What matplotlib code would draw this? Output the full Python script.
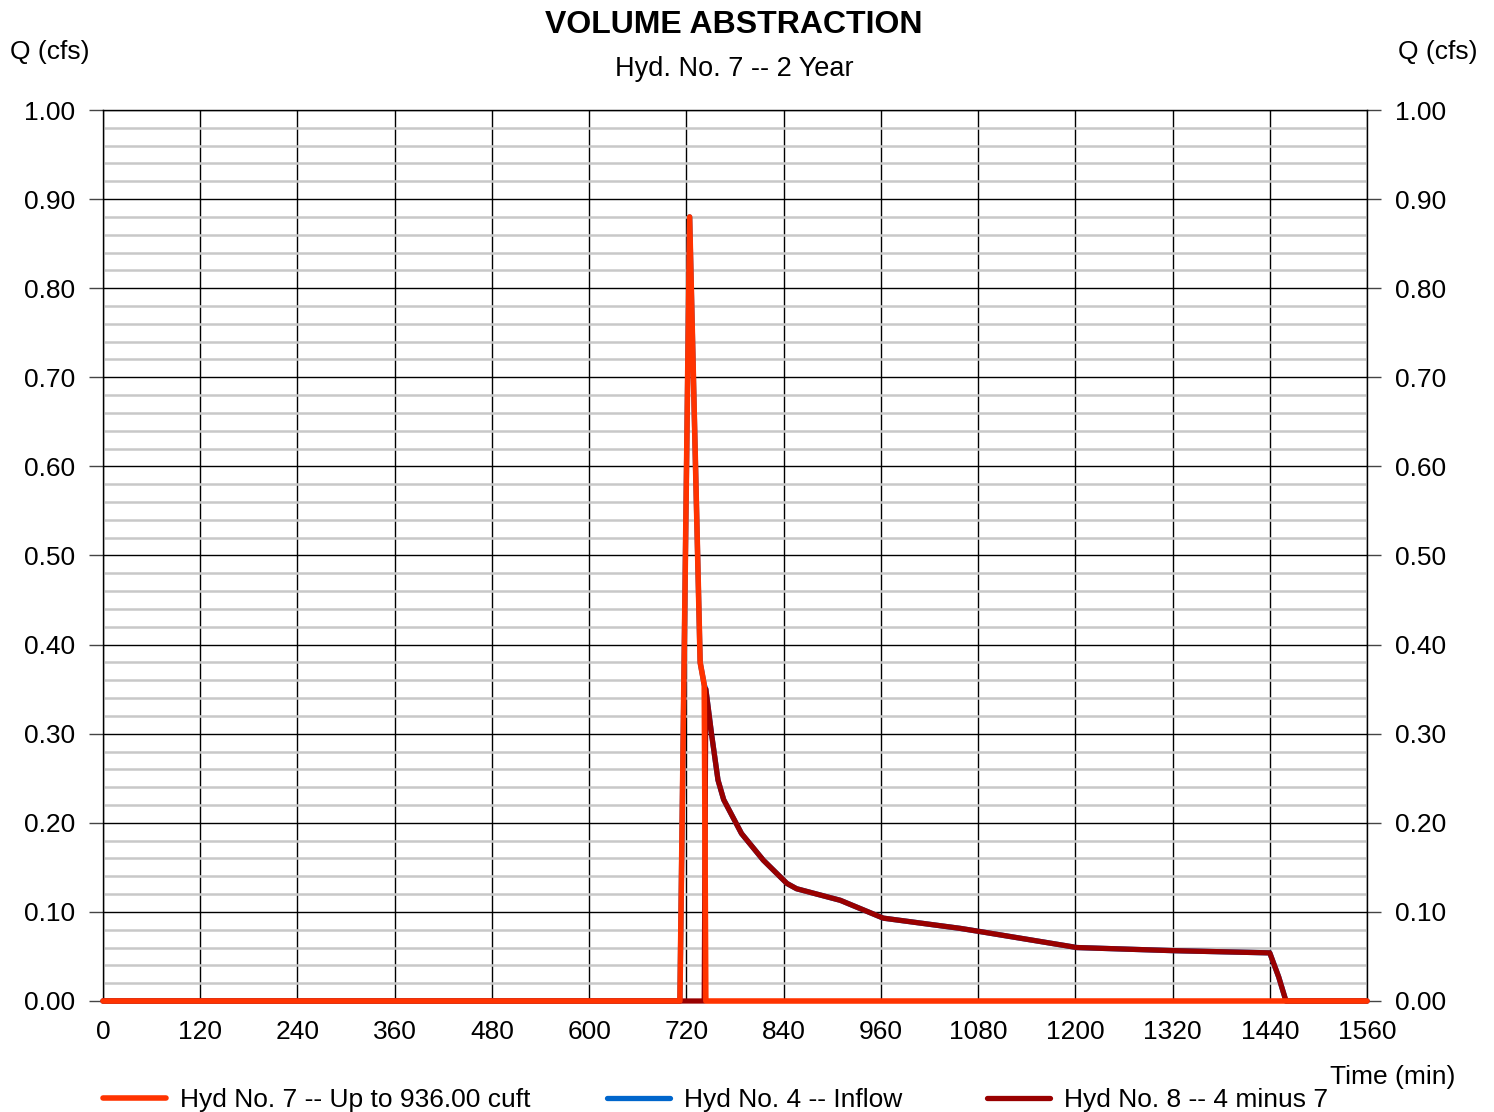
import matplotlib.pyplot as plt
from matplotlib.ticker import MultipleLocator

plt.rcParams['font.family'] = ['Liberation Sans', 'DejaVu Sans']

# Hyd No. 7 - abstracted volume (up to 936 cuft), time in min, Q in cfs
t_up = [0, 712, 724, 737, 742, 744, 1560]
q_up = [0.0, 0.0, 0.88, 0.38, 0.355, 0.0, 0.0]

# Hyd No. 8 - inflow minus abstraction
t_rem = [0, 742, 744, 751, 759, 766, 788, 815, 844, 856, 910, 963,
         1058, 1082, 1202, 1321, 1440, 1451, 1460, 1560]
q_rem = [0.0, 0.0, 0.35, 0.30, 0.248, 0.226, 0.188, 0.158, 0.132, 0.126, 0.113, 0.093,
         0.0815, 0.078, 0.060, 0.0565, 0.054, 0.027, 0.0, 0.0]

# Hyd No. 4 - inflow (abstraction until full, remainder afterwards)
t_in = t_up[:5] + t_rem[2:]
q_in = q_up[:5] + q_rem[2:]

x_ticks = list(range(0, 1561, 120))

labels = ["Hyd No. 7 -- Up to 936.00 cuft", "Hyd No. 4 -- Inflow", "Hyd No. 8 -- 4 minus 7"]
colors = ["#FF3300", "#0066CC", "#990000"]

fig = plt.figure(figsize=(14.94, 11.12), dpi=100)
ax = fig.add_axes([103 / 1494, 1 - 1001 / 1112, 1264 / 1494, 891 / 1112])

l4, = ax.plot(t_in, q_in, color=colors[1], lw=3.8, zorder=3, clip_on=False,
              solid_capstyle='round')
l8, = ax.plot(t_rem, q_rem, color=colors[2], lw=3.8, zorder=4, clip_on=False,
              solid_capstyle='round')
l7, = ax.plot(t_up, q_up, color=colors[0], lw=4.0, zorder=5, clip_on=False,
              solid_capstyle='round')

ax.set_xlim(0, 1560)
ax.set_ylim(0, 1.0)
ax.set_xticks(x_ticks)
ax.yaxis.set_major_locator(MultipleLocator(0.1))
ax.yaxis.set_minor_locator(MultipleLocator(0.02))
ax.yaxis.set_major_formatter(lambda v, p: f"{v:.2f}")

ax.grid(which='minor', axis='y', color='#C8C8C8', lw=1.8, zorder=0)
ax.grid(which='major', color='black', lw=1.0, zorder=1)
ax.set_axisbelow(True)
for s in ax.spines.values():
    s.set_color('black')
    s.set_linewidth(1.0)

ax.tick_params(axis='y', which='major', left=True, right=True, labelleft=True,
               labelright=True, length=10, width=1, color='#444444', pad=10, labelsize=19)
ax.tick_params(axis='y', which='minor', left=False, right=False)
ax.tick_params(axis='x', length=0, pad=14, labelsize=19)

fig.text(734 / 1494, 1 - 25 / 1112, "VOLUME ABSTRACTION", ha='center', va='center',
         fontsize=23, fontweight='bold')
fig.text(734 / 1494, 1 - 69 / 1112, "Hyd. No. 7 -- 2 Year", ha='center', va='center',
         fontsize=19.5)
fig.text(10 / 1494, 1 - 52 / 1112, "Q (cfs)", ha='left', va='center', fontsize=19)
fig.text(1477 / 1494, 1 - 52 / 1112, "Q (cfs)", ha='right', va='center', fontsize=19)
fig.text(1455 / 1494, 1 - 1077 / 1112, "Time (min)", ha='right', va='center', fontsize=19)

for h, lab, x0 in zip([l7, l4, l8], labels, [103, 607, 987]):
    fig.legend([h], [lab], loc='center left', bbox_to_anchor=(x0 / 1494, 1 - 1100 / 1112),
               frameon=False, fontsize=19, handlelength=2.4, handletextpad=0.5,
               borderpad=0, borderaxespad=0)

fig.savefig("out.png", dpi=100)
